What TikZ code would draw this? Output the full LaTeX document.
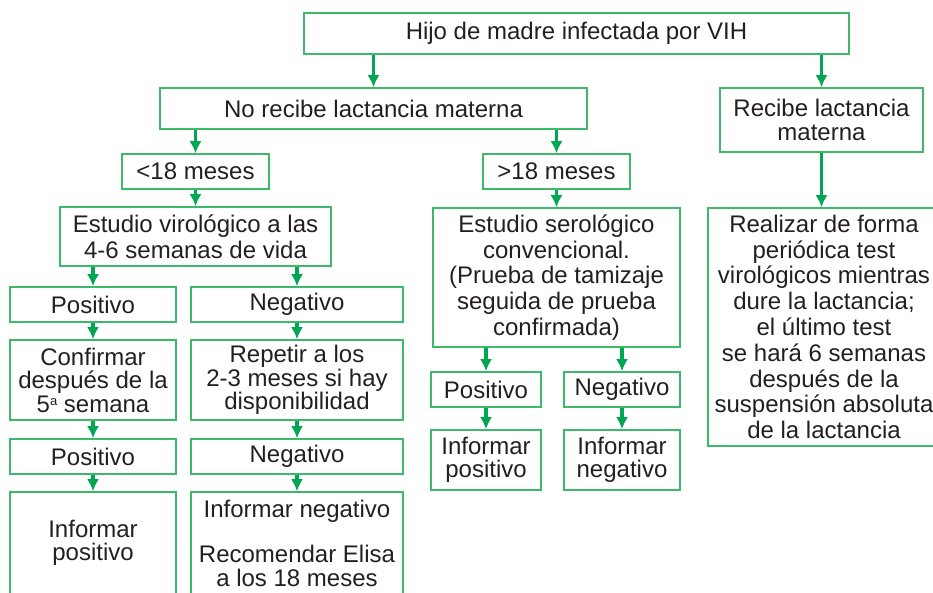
\documentclass[tikz,border=0pt]{standalone}
\usepackage{fontspec}
\setmainfont{Liberation Sans}
\usetikzlibrary{arrows.meta}
\definecolor{verdecaja}{RGB}{60,185,105}
\definecolor{verdeflecha}{RGB}{0,166,81}
\definecolor{texto}{RGB}{35,31,32}
\tikzset{>={Latex[length=12pt,width=12pt]}}
\tikzset{caja/.style={draw=verdecaja,line width=1.6pt,align=center,inner sep=0pt,text=texto,
    font=\fontsize{24}{23.5}\selectfont},
  cajaalta/.style={caja,font=\fontsize{24}{25.8}\selectfont},
  flecha/.style={->,draw=verdeflecha,line width=3.4pt}}
\newcommand{\supa}{\raisebox{7pt}{\fontsize{13}{13}\selectfont a}}

\begin{document}
\begin{tikzpicture}[x=1pt,y=-1pt]
       \useasboundingbox (0,0) rectangle (933,592);
       \clip (0,0) rectangle (933,592);
       % primer nivel
       \node[caja,minimum width=545,minimum height=41] (madre) at (576.5,33.5) {Hijo de madre infectada por VIH};
       \node[caja,minimum width=427,minimum height=41] (nolact) at (373.5,108.5) {No recibe lactancia materna};
       \node[caja,minimum width=203,minimum height=64] (lact) at (821.5,120) {Recibe lactancia\\materna};
       \node[caja,minimum width=147,minimum height=35] (menor) at (195.5,171.5) {<18 meses};
       \node[caja,minimum width=147,minimum height=35] (mayor) at (556.5,171.5) {>18 meses};
       \node[cajaalta,minimum width=271,minimum height=59] (viro) at (195.5,236.5) {Estudio virológico a las\\4-6 semanas de vida};
       \node[cajaalta,minimum width=247,minimum height=139] (sero) at (556.5,277.5) {Estudio serológico\\convencional.\\(Prueba de tamizaje\\seguida de prueba\\confirmada)};
       \node[cajaalta,minimum width=232,minimum height=238] (periodica) at (824,327) {Realizar de forma\\periódica test\\virológicos mientras\\dure la lactancia;\\el último test\\se hará 6 semanas\\después de la\\suspensión absoluta\\de la lactancia};
       % rama izquierda
       \node[caja,minimum width=166,minimum height=35] (pos1) at (93,304.5) {Positivo};
       \node[caja,minimum width=212,minimum height=35] (neg1) at (297,304.5) {Negativo};
       \node[caja,minimum width=166,minimum height=80] (conf) at (93,380) {Confirmar\\después de la\\5\supa{} semana};
       \node[caja,minimum width=212,minimum height=80] (rep) at (297,380) {Repetir a los\\2-3 meses si hay\\disponibilidad};
       \node[caja,minimum width=166,minimum height=35] (pos2) at (93,456.5) {Positivo};
       \node[caja,minimum width=212,minimum height=35] (neg2) at (297,456.5) {Negativo};
       \node[caja,minimum width=166,minimum height=102] (infpos) at (93,543) {Informar\\positivo};
       \node[caja,minimum width=212,minimum height=102] (infneg) at (297,543) {Informar negativo\\[22pt]Recomendar Elisa\\a los 18 meses};
       % rama central
       \node[caja,minimum width=110,minimum height=35] (spos) at (486,389.5) {Positivo};
       \node[caja,minimum width=116,minimum height=35] (sneg) at (622,389.5) {Negativo};
       \node[caja,minimum width=110,minimum height=60] (sinfpos) at (486,460) {Informar\\positivo};
       \node[caja,minimum width=116,minimum height=60] (sinfneg) at (622,460) {Informar\\negativo};
       % flechas
       \draw[flecha] (madre.south -| nolact.north) -- (nolact.north);
       \draw[flecha] (madre.south -| lact.north) -- (lact.north);
       \draw[flecha] (nolact.south -| menor.north) -- (menor.north);
       \draw[flecha] (nolact.south -| mayor.north) -- (mayor.north);
       \draw[flecha] (viro.south -| pos1.north) -- (pos1.north);
       \draw[flecha] (viro.south -| neg1.north) -- (neg1.north);
       \draw[flecha] (sero.south -| spos.north) -- (spos.north);
       \draw[flecha] (sero.south -| sneg.north) -- (sneg.north);
       \foreach \a/\b in {menor/viro,mayor/sero,lact/periodica,pos1/conf,conf/pos2,pos2/infpos,neg1/rep,rep/neg2,neg2/infneg,spos/sinfpos,sneg/sinfneg}
         \draw[flecha] (\a.south) -- (\a.south |- \b.north);
      \end{tikzpicture}
\end{document}
